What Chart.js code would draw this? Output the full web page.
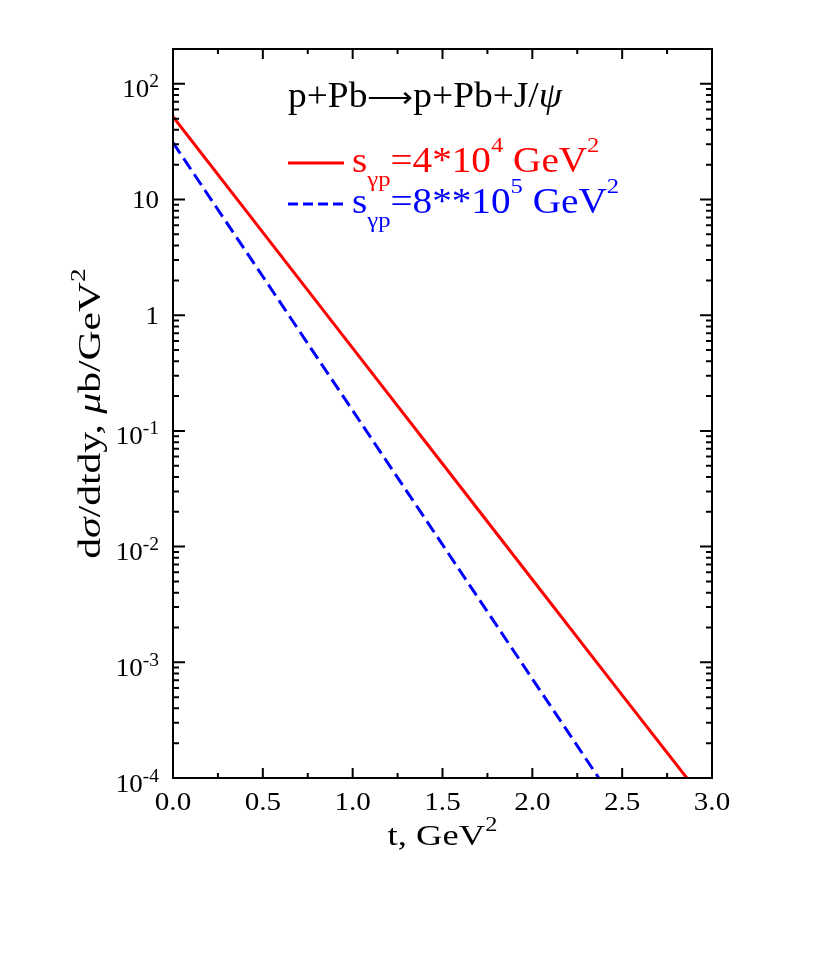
<!DOCTYPE html>
<html><head><meta charset="utf-8">
<script src="https://cdn.jsdelivr.net/npm/chart.js@4/dist/chart.umd.min.js"></script>
<style>html,body{margin:0;padding:0;background:#fff}</style>
</head><body>
<canvas id="c" width="830" height="969" style="display:block;width:830px;height:969px"></canvas>
<script>
// ---- data ----
const tRed = [0, 0.5, 1.0, 1.5, 2.0, 2.5, 2.86];
const sigmaRed = [52, 5.2, 0.52, 0.052, 0.0052, 0.00052, 0.0001];
const tBlue = [0, 0.5, 1.0, 1.5, 2.0, 2.37];
const sigmaBlue = [31, 2.16, 0.150, 0.0104, 0.00072, 0.0001];
const xTickValues = [0, 0.5, 1, 1.5, 2, 2.5, 3];
const xTickLabels = ['0.0', '0.5', '1.0', '1.5', '2.0', '2.5', '3.0'];
const yTickValues = [100, 10, 1, 0.1, 0.01, 0.001, 0.0001];
const yTickBases = ['10', '10', '1', '10', '10', '10', '10'];
const yTickExps = ['2', '', '', '-1', '-2', '-3', '-4'];
const processTitle = ['p+Pb', '\u27F6', 'p+Pb+J/', '\u03c8'];
const redLabel = {s: 's', sub: '\u03b3p', main: '=4*10', sup: '4', unit: ' GeV', usup: '2'};
const blueLabel = {s: 's', sub: '\u03b3p', main: '=8**10', sup: '5', unit: ' GeV', usup: '2'};

const SERIF = "'Liberation Serif', 'Times New Roman', serif";
const f = (sz, it) => (it ? 'italic ' : '') + sz + 'px ' + SERIF;

function runsWidth(ctx, runs, sx) {
  let w = 0;
  for (const r of runs) { ctx.font = r.font; w += ctx.measureText(r.text).width + (r.dx || 0); }
  return w * (sx || 1);
}
function drawRuns(ctx, runs, x, y, color, sx) {
  ctx.save();
  ctx.translate(x, y);
  ctx.scale(sx || 1, 1);
  ctx.fillStyle = color;
  ctx.textBaseline = 'alphabetic';
  ctx.textAlign = 'left';
  let cx = 0;
  for (const r of runs) {
    ctx.font = r.font;
    cx += (r.dx || 0);
    ctx.fillText(r.text, cx, (r.dy || 0));
    cx += ctx.measureText(r.text).width;
  }
  ctx.restore();
}

const decor = {
  id: 'decor',
  afterDraw(chart) {
    const ctx = chart.ctx;
    const xs = chart.scales.x, ys = chart.scales.y;
    const a = chart.chartArea;
    ctx.save();
    ctx.strokeStyle = '#000';
    ctx.lineWidth = 2;
    ctx.strokeRect(a.left, a.top, a.right - a.left, a.bottom - a.top);
    // x ticks (major every 0.5, minor every 0.25), inward on bottom and top
    ctx.beginPath();
    for (let i = 0; i <= 12; i++) {
      const v = i * 0.25;
      const px = xs.getPixelForValue(v);
      const len = (i % 2 === 0) ? 10 : 5;
      ctx.moveTo(px, a.bottom); ctx.lineTo(px, a.bottom - len);
      ctx.moveTo(px, a.top); ctx.lineTo(px, a.top + len);
    }
    // y ticks (log decades + minor), inward on left and right
    for (let d = -4; d <= 2; d++) {
      for (let m = 1; m <= 9; m++) {
        const v = m * Math.pow(10, d);
        if (v > ys.max * 1.0001) continue;
        const py = ys.getPixelForValue(v);
        const len = m === 1 ? 12 : 6;
        ctx.moveTo(a.left, py); ctx.lineTo(a.left + len, py);
        ctx.moveTo(a.right, py); ctx.lineTo(a.right - len, py);
      }
    }
    ctx.stroke();

    // x tick labels
    xTickValues.forEach((v, i) => {
      const runs = [{text: xTickLabels[i], font: f(26)}];
      const w = runsWidth(ctx, runs, 1.12);
      drawRuns(ctx, runs, xs.getPixelForValue(v) - w / 2, a.bottom + 32, '#000', 1.12);
    });
    // y tick labels
    yTickValues.forEach((v, i) => {
      const py = ys.getPixelForValue(v);
      const runs = [{text: yTickBases[i], font: f(25)}];
      if (yTickExps[i]) runs.push({text: yTickExps[i], font: f(18), dy: -10});
      const w = runsWidth(ctx, runs, 1.08);
      drawRuns(ctx, runs, a.left - 14 - w, py + (yTickExps[i] ? 13.5 : 8.5), '#000', 1.08);
    });

    // x axis title
    const xt = [{text: 't, GeV', font: f(30)}, {text: '2', font: f(20), dy: -14}];
    const xw = runsWidth(ctx, xt, 1.22);
    drawRuns(ctx, xt, (a.left + a.right) / 2 - xw / 2, a.bottom + 67, '#000', 1.22);

    // y axis title (rotated)
    const yt = [
      {text: 'd', font: f(32)}, {text: '\u03c3', font: f(32, true)},
      {text: '/dtdy, ', font: f(32)}, {text: '\u03bc', font: f(32, true)},
      {text: 'b/GeV', font: f(32)}, {text: '2', font: f(21), dy: -15}
    ];
    const yw = runsWidth(ctx, yt, 1.3);
    ctx.save();
    ctx.translate(100, (a.top + a.bottom) / 2);
    ctx.rotate(-Math.PI / 2);
    drawRuns(ctx, yt, -yw / 2, 0, '#000', 1.3);
    ctx.restore();

    // process title
    const tr = [
      {text: processTitle[0], font: f(35)}, {text: processTitle[1], font: f(30)},
      {text: processTitle[2], font: f(35)}, {text: processTitle[3], font: f(35, true)}
    ];
    const tw = runsWidth(ctx, tr, 1);
    drawRuns(ctx, tr, 288, 107, '#000', 274 / tw);

    // legend
    const legend = [
      {lab: redLabel, color: '#ff0000', y: 163, dash: []},
      {lab: blueLabel, color: '#0000ff', y: 204, dash: [10, 5]}
    ];
    legend.forEach(L => {
      ctx.strokeStyle = L.color;
      ctx.lineWidth = 3;
      ctx.setLineDash(L.dash);
      ctx.beginPath();
      ctx.moveTo(288, L.y); ctx.lineTo(344, L.y);
      ctx.stroke();
      ctx.setLineDash([]);
      const runs = [
        {text: L.lab.s, font: f(35)},
        {text: L.lab.sub, font: f(22), dy: 14},
        {text: L.lab.main, font: f(35)},
        {text: L.lab.sup, font: f(22), dy: -20},
        {text: L.lab.unit, font: f(35)},
        {text: L.lab.usup, font: f(22), dy: -20}
      ];
      drawRuns(ctx, runs, 352, L.y + 9, L.color, 1.12);
    });
    ctx.restore();
  }
};

new Chart(document.getElementById('c'), {
  type: 'line',
  data: {
    datasets: [
      {
        label: 'red',
        data: tRed.map((t, i) => ({x: t, y: sigmaRed[i]})),
        borderColor: '#ff0000', borderWidth: 3, pointRadius: 0, fill: false, tension: 0
      },
      {
        label: 'blue',
        data: tBlue.map((t, i) => ({x: t, y: sigmaBlue[i]})),
        borderColor: '#0000ff', borderWidth: 3, borderDash: [13, 6], pointRadius: 0, fill: false, tension: 0
      }
    ]
  },
  options: {
    responsive: false,
    animation: false,
    devicePixelRatio: 1,
    layout: {padding: {left: 173, top: 49, right: 118, bottom: 191}},
    plugins: {legend: {display: false}, tooltip: {enabled: false}},
    scales: {
      x: {type: 'linear', min: 0, max: 3, display: false},
      y: {type: 'logarithmic', min: 0.0001, max: 200, display: false}
    }
  },
  plugins: [decor]
});
</script>
</body></html>
